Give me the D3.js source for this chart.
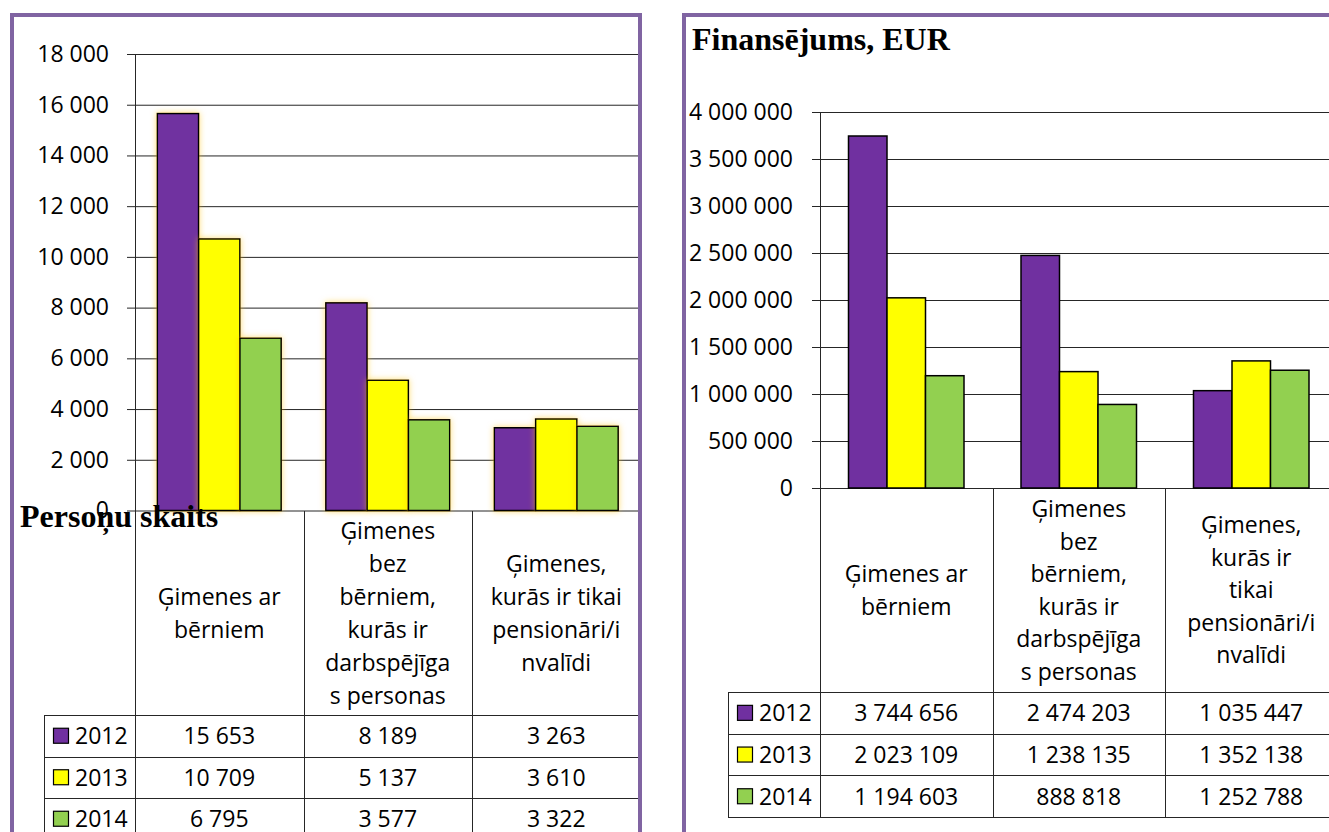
<!DOCTYPE html>
<html>
<head>
<meta charset="utf-8">
<script src="https://cdn.jsdelivr.net/npm/d3@7"></script>
<style>
body { margin: 0; background: #fff; }
svg { display: block; }
</style>
</head>
<body>
<script>
var width = 1329,
    height = 832;

// data
var years = ['2012', '2013', '2014'];
var yearColors = ['#7030a0', '#ffff00', '#92d050'];

var personsLabels = [
  ['Ģimenes ar', 'bērniem'],
  ['Ģimenes', 'bez', 'bērniem,', 'kurās ir', 'darbspējīga', 's personas'],
  ['Ģimenes,', 'kurās ir tikai', 'pensionāri/i', 'nvalīdi']
];
var persons2012 = [15653, 8189, 3263];
var persons2013 = [10709, 5137, 3610];
var persons2014 = [6795, 3577, 3322];
var personsTicks = [0, 2000, 4000, 6000, 8000, 10000, 12000, 14000, 16000, 18000];

var fundingLabels = [
  ['Ģimenes ar', 'bērniem'],
  ['Ģimenes', 'bez', 'bērniem,', 'kurās ir', 'darbspējīga', 's personas'],
  ['Ģimenes,', 'kurās ir', 'tikai', 'pensionāri/i', 'nvalīdi']
];
var funding2012 = [3744656, 2474203, 1035447];
var funding2013 = [2023109, 1238135, 1352138];
var funding2014 = [1194603, 888818, 1252788];
var fundingTicks = [0, 500000, 1000000, 1500000, 2000000, 2500000, 3000000, 3500000, 4000000];

var locale = d3.formatLocale({decimal: ',', thousands: ' ', grouping: [3], currency: ['', '']});
var fmt = locale.format(',d');

var font = '"Open Sans", sans-serif';
var serif = '"Times New Roman", "Liberation Serif", serif';
var lineColor = '#262626';
var borderColor = '#8064a2';

var svg = d3.select('body').append('svg')
    .attr('width', width)
    .attr('height', height);

var defs = svg.append('defs');
var glow = defs.append('filter').attr('id', 'glow')
    .attr('x', '-30%').attr('y', '-10%').attr('width', '160%').attr('height', '120%');
glow.append('feGaussianBlur').attr('in', 'SourceAlpha').attr('stdDeviation', 3).attr('result', 'blur');
glow.append('feFlood').attr('flood-color', '#ffc000').attr('flood-opacity', 0.55);
glow.append('feComposite').attr('in2', 'blur').attr('operator', 'in').attr('result', 'shadow');
var merge = glow.append('feMerge');
merge.append('feMergeNode').attr('in', 'shadow');
merge.append('feMergeNode').attr('in', 'SourceGraphic');

function drawPanel(o) {
  var g = svg.append('g');
  var cats = o.labels.map(function(l) { return l.join(' '); });

  var x0 = d3.scaleBand().domain(cats).range([o.left, o.left + 3 * o.step]);
  var p = (o.step / o.barW - 3) / 2;
  var x1 = d3.scaleBand().domain(years).range([0, x0.bandwidth()])
      .paddingInner(0).paddingOuter(p);
  var y = d3.scaleLinear().domain([0, o.ticks[o.ticks.length - 1]]).range([o.bottom, o.top]);

  // gridlines + tick labels
  var yAxis = d3.axisLeft(y)
      .tickValues(o.ticks)
      .tickFormat(fmt)
      .tickSizeInner(-(o.right - o.tickX))
      .tickSizeOuter(0)
      .tickPadding(o.tickX - o.labelX);

  g.append('g')
    .attr('transform', 'translate(' + o.tickX + ',0)')
    .call(yAxis)
    .call(function(a) { a.select('.domain').remove(); })
    .call(function(a) {
      a.selectAll('.tick line').attr('stroke', lineColor);
      a.selectAll('.tick text')
        .attr('fill', '#000')
        .attr('font-family', font)
        .attr('font-size', 23);
    });

  // bars
  var series = o.series;
  var groups = g.append('g').selectAll('g')
    .data(cats)
    .enter().append('g')
    .attr('transform', function(d) { return 'translate(' + x0(d) + ',0)'; });

  groups.selectAll('rect')
    .data(function(d, i) {
      return years.map(function(yr, j) { return {year: yr, value: series[j][i], color: yearColors[j]}; });
    })
    .enter().append('rect')
    .attr('x', function(d) { return x1(d.year); })
    .attr('y', function(d) { return y(d.value); })
    .attr('width', x1.bandwidth())
    .attr('height', function(d) { return y(0) - y(d.value); })
    .attr('fill', function(d) { return d.color; })
    .attr('stroke', '#000')
    .attr('stroke-width', 1.5)
    .attr('filter', o.glow ? 'url(#glow)' : null);

  // data table
  var rowsBottom = o.rowTop + 3 * o.rowH;
  var lines = g.append('g').attr('stroke', lineColor).attr('stroke-width', 1)
      .attr('shape-rendering', 'crispEdges');

  lines.append('line')
    .attr('x1', o.left + 0.5).attr('x2', o.left + 0.5)
    .attr('y1', y(o.ticks[o.ticks.length - 1])).attr('y2', rowsBottom);

  cats.slice(1).forEach(function(c) {
    lines.append('line')
      .attr('x1', x0(c) + 0.5).attr('x2', x0(c) + 0.5)
      .attr('y1', o.bottom).attr('y2', rowsBottom);
  });

  d3.range(4).forEach(function(i) {
    lines.append('line')
      .attr('x1', o.legendX).attr('x2', o.right)
      .attr('y1', o.rowTop + i * o.rowH + 0.5).attr('y2', o.rowTop + i * o.rowH + 0.5);
  });
  lines.append('line')
    .attr('x1', o.legendX + 0.5).attr('x2', o.legendX + 0.5)
    .attr('y1', o.rowTop).attr('y2', rowsBottom);

  // category labels in header
  var headMid = (o.bottom + o.rowTop) / 2;
  cats.forEach(function(c, i) {
    var ls = o.labels[i];
    var t = g.append('text')
      .attr('font-family', font)
      .attr('font-size', 23)
      .attr('text-anchor', 'middle');
    ls.forEach(function(l, k) {
      t.append('tspan')
        .attr('x', x0(c) + x0.bandwidth() / 2)
        .attr('y', headMid + (k - (ls.length - 1) / 2) * o.lineH)
        .attr('dy', '0.36em')
        .text(l);
    });
  });

  // rows
  years.forEach(function(yr, j) {
    var cy = o.rowTop + j * o.rowH + o.rowH / 2;
    g.append('rect')
      .attr('x', o.legendX + 9.5).attr('y', cy - 7.5)
      .attr('width', 15).attr('height', 15)
      .attr('fill', yearColors[j])
      .attr('stroke', '#000').attr('stroke-width', 1.2);
    g.append('text')
      .attr('x', o.legendX + 31).attr('y', cy)
      .attr('dy', '0.36em')
      .attr('font-family', font).attr('font-size', 23)
      .text(yr);
    cats.forEach(function(c, i) {
      g.append('text')
        .attr('x', x0(c) + x0.bandwidth() / 2).attr('y', cy)
        .attr('dy', '0.36em')
        .attr('text-anchor', 'middle')
        .attr('font-family', font).attr('font-size', 23)
        .text(fmt(series[j][i]));
    });
  });

  // title
  g.append('text')
    .attr('x', o.titleX).attr('y', o.titleY)
    .attr('font-family', serif)
    .attr('font-weight', 'bold')
    .attr('font-size', 32)
    .text(o.title);
}

drawPanel({
  title: 'Persoņu skaits', titleX: 20, titleY: 527,
  labels: personsLabels,
  series: [persons2012, persons2013, persons2014],
  ticks: personsTicks,
  left: 135, step: 168.5, barW: 41.3,
  right: 640, top: 54, bottom: 510.5,
  tickX: 127, labelX: 109,
  rowTop: 715, rowH: 41.5, legendX: 44, lineH: 33,
  glow: true
});

drawPanel({
  title: 'Finansējums, EUR', titleX: 692, titleY: 50,
  labels: fundingLabels,
  series: [funding2012, funding2013, funding2014],
  ticks: fundingTicks,
  left: 820, step: 172.5, barW: 38.5,
  right: 1329, top: 112, bottom: 488,
  tickX: 812, labelX: 793,
  rowTop: 692, rowH: 41.7, legendX: 728, lineH: 32.5,
  glow: false
});

// panel borders
var frame = svg.append('g').attr('stroke', borderColor).attr('stroke-width', 4).attr('fill', 'none');
frame.append('path').attr('d', 'M12,' + height + 'V15H640V' + height);
frame.append('path').attr('d', 'M684,' + height + 'V15H' + width);
</script>
</body>
</html>
